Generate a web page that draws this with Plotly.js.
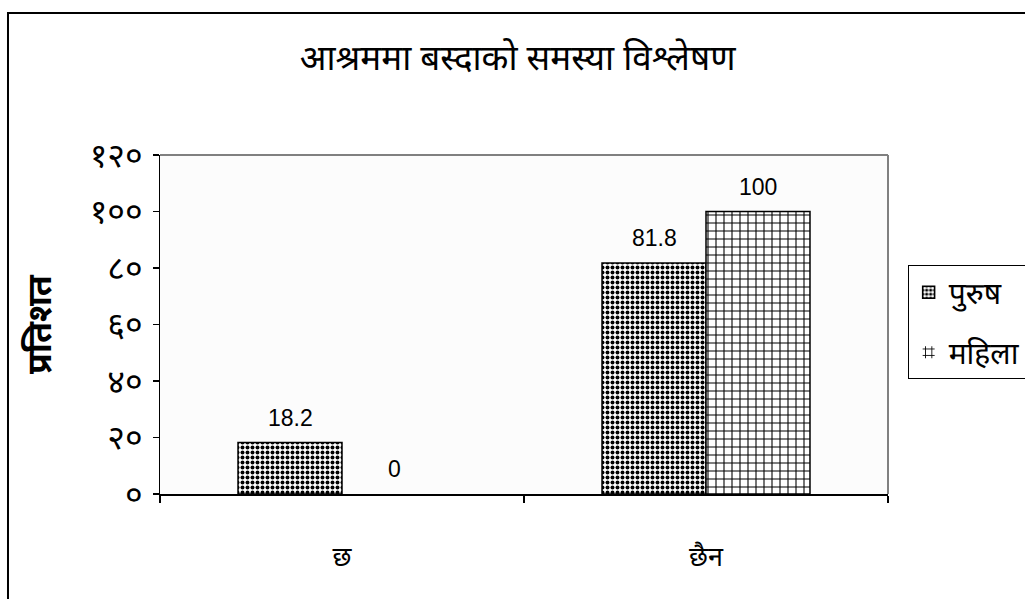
<!DOCTYPE html>
<html>
<head>
<meta charset="utf-8">
<script src="https://cdn.plot.ly/plotly-3.0.1.min.js"></script>
<style>html,body{margin:0;padding:0;background:#fff}#chart{width:1025px;height:599px}</style>
</head>
<body>
<div id="chart"></div>
<script>
var categories = ["छ", "छैन"];
var seriesNames = ["पुरुष", "महिला"];
var maleValues = [18.2, 81.8];
var femaleValues = [0, 100];
var tickValues = [0, 20, 40, 60, 80, 100, 120];
var tickLabels = ["०", "२०", "४०", "६०", "८०", "१००", "१२०"];
var titleText = "आश्रममा बस्दाको समस्या विश्लेषण";
var yTitleText = "प्रतिशत";

var devFont = "Noto Sans Devanagari, Lohit Devanagari, Mangal, Noto Sans, sans-serif";

function lineWidths(vals) { return vals.map(function (v) { return v === 0 ? 0 : 1.5; }); }

var traces = [
  {
    type: "bar", name: seriesNames[0], x: categories, y: maleValues, legendgroup: "a",
    marker: {color: "#ffffff", line: {color: "#000", width: lineWidths(maleValues)},
      pattern: {shape: ".", fgcolor: "#000", bgcolor: "#ffffff", size: 5, solidity: 0.5}},
    hoverinfo: "none"
  },
  {
    type: "bar", name: seriesNames[1], x: categories, y: femaleValues, legendgroup: "b",
    marker: {color: "#ffffff", line: {color: "#000", width: lineWidths(femaleValues)},
      pattern: {shape: "+", fgcolor: "#000", bgcolor: "#ffffff", size: 8, solidity: 0.25}},
    hoverinfo: "none"
  }
];

var annotations = [];
[maleValues, femaleValues].forEach(function (vals, si) {
  vals.forEach(function (v, ci) {
    annotations.push({
      x: categories[ci], y: v, xref: "x", yref: "y",
      text: String(v), showarrow: false,
      xshift: si === 0 ? -52 : 52, yshift: 25,
      font: {family: "Liberation Sans, Arial, sans-serif", size: 23, color: "#000"}
    });
  });
});

var layout = {
  width: 1025, height: 599,
  margin: {l: 160, r: 137, t: 155, b: 105, autoexpand: false},
  paper_bgcolor: "#ffffff",
  plot_bgcolor: "#fcfcfc",
  showlegend: true,
  barmode: "group",
  bargap: 0.4286,
  bargroupgap: 0,
  title: {text: titleText, x: 0.505, xref: "container", y: 0.903, yref: "container",
    xanchor: "center", yanchor: "middle",
    font: {family: devFont, size: 35, color: "#000", weight: "normal"}},
  xaxis: {
    type: "category", showline: true, linecolor: "#000", linewidth: 1.5,
    ticks: "outside", tickson: "boundaries", ticklen: 7, tickcolor: "#000", tickwidth: 1.5,
    ticklabelstandoff: 38,
    tickfont: {family: devFont, size: 27, color: "#000"},
    showgrid: false, zeroline: false, mirror: false
  },
  yaxis: {
    range: [0, 120], tickvals: tickValues, ticktext: tickLabels,
    showline: true, linecolor: "#000", linewidth: 1.5,
    ticks: "outside", ticklen: 6, tickcolor: "#000", tickwidth: 1.5,
    ticklabelstandoff: 3,
    tickfont: {family: devFont, size: 34, color: "#000"},
    showgrid: false, zeroline: false,
    title: {text: yTitleText, standoff: 28, font: {family: devFont, size: 34, color: "#000", weight: "bold"}}
  },
  legend: {
    x: 1.027, xanchor: "left", y: 0.675, yanchor: "top",
    bordercolor: "#000", borderwidth: 1, bgcolor: "#ffffff",
    font: {family: devFont, size: 30, color: "#000"},
    traceorder: "grouped", tracegroupgap: 18, itemwidth: 30
  },
  annotations: annotations,
  shapes: [
    {type: "rect", xref: "paper", yref: "paper", x0: -0.2088, x1: 1.2, y0: -0.33, y1: 1.4189,
      line: {color: "#000", width: 2}, fillcolor: "rgba(0,0,0,0)", layer: "below"},
    {type: "line", xref: "paper", yref: "paper", x0: 0, x1: 1, y0: 1, y1: 1,
      line: {color: "#808080", width: 2}},
    {type: "line", xref: "paper", yref: "paper", x0: 1, x1: 1, y0: 0, y1: 1,
      line: {color: "#808080", width: 2}}
  ]
};

Plotly.newPlot("chart", traces, layout, {staticPlot: true, displayModeBar: false});
</script>
</body>
</html>
